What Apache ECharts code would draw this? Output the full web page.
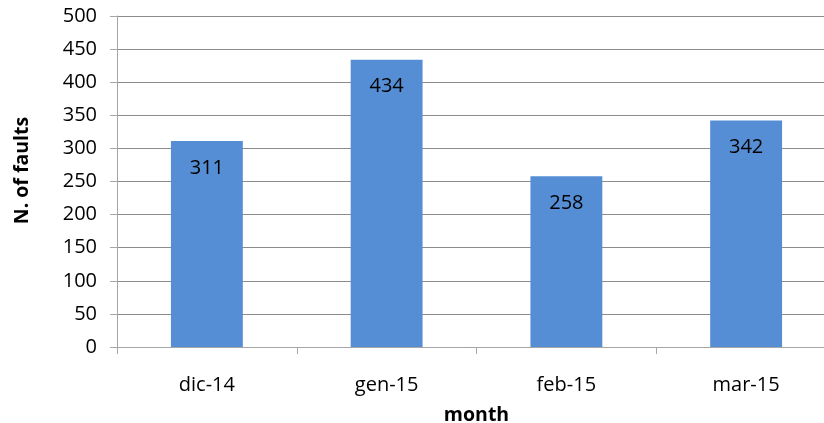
<!DOCTYPE html>
<html>
<head>
<meta charset="utf-8">
<script src="https://cdn.jsdelivr.net/npm/echarts@6/dist/echarts.min.js"></script>
<style>
  html, body { margin: 0; padding: 0; background: #fff; }
  #chart { width: 824px; height: 423px; }
</style>
</head>
<body>
<div id="chart"></div>
<script>
// Monthly fault counts
const months = ['dic-14', 'gen-15', 'feb-15', 'mar-15'];
const faults = [311, 434, 258, 342];
const yTicks = { min: 0, max: 500, interval: 50 };

const font = '"Open Sans", "Noto Sans", sans-serif';

const chart = echarts.init(document.getElementById('chart'));
chart.setOption({
  animation: false,
  backgroundColor: '#ffffff',
  // plot area runs a little past the right edge of the canvas
  grid: { left: 117, top: 16, width: 719, height: 331, containLabel: false, outerBoundsMode: 'none' },
  xAxis: {
    type: 'category',
    data: months,
    name: 'month',
    nameLocation: 'middle',
    nameGap: 58,
    nameTextStyle: { fontFamily: font, fontWeight: 'bold', fontSize: 19.5, color: '#000' },
    axisLine: { lineStyle: { color: '#a6a6a6', width: 1 } },
    axisTick: { show: true, alignWithLabel: false, length: 7, inside: false, lineStyle: { color: '#a6a6a6' } },
    axisLabel: { fontFamily: font, fontSize: 20, color: '#000', margin: 28 }
  },
  yAxis: {
    type: 'value',
    min: yTicks.min,
    max: yTicks.max,
    interval: yTicks.interval,
    name: 'N. of faults',
    nameLocation: 'middle',
    nameGap: 85,
    nameTextStyle: { fontFamily: font, fontWeight: 'bold', fontSize: 19.5, color: '#000', padding: [0, 0, 0, 22] },
    axisLine: { show: true, lineStyle: { color: '#a6a6a6', width: 1 } },
    axisTick: { show: true, length: 7, lineStyle: { color: '#a6a6a6' } },
    axisLabel: { fontFamily: font, fontSize: 20, color: '#000', margin: 20 },
    splitLine: { show: true, lineStyle: { color: '#8c8c8c', width: 1 } }
  },
  series: [{
    type: 'bar',
    data: faults,
    barWidth: '40%',
    itemStyle: { color: '#558ed5' },
    label: {
      show: true,
      position: 'insideTop',
      distance: 17,
      fontFamily: font,
      fontSize: 20,
      color: '#000'
    }
  }]
});
</script>
</body>
</html>
